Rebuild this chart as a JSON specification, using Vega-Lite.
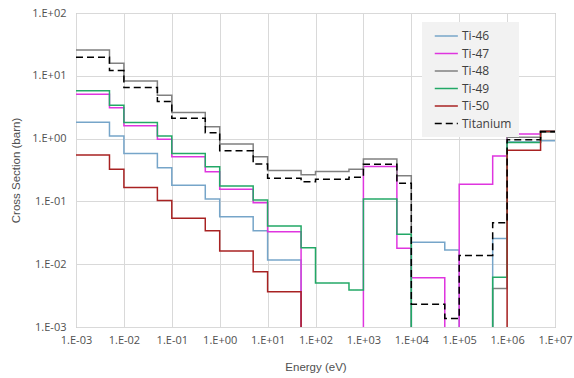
{
  "$schema": "https://vega.github.io/schema/vega-lite/v6.json",
  "width": 479,
  "height": 314,
  "autosize": {"type": "none"},
  "padding": {"left": 76, "top": 13, "right": 19, "bottom": 51},
  "background": "white",
  "config": {
    "view": {"stroke": "#a6a6a6", "strokeWidth": 1},
    "axis": {
      "grid": true,
      "gridColor": "#d9d9d9",
      "gridWidth": 1,
      "domain": false,
      "ticks": false,
      "labelFont": "Open Sans",
      "labelFontSize": 11,
      "labelColor": "#505050",
      "labelOverlap": false,
      "labelFlush": false,
      "labelBound": false,
      "titleFont": "Liberation Sans",
      "titleFontSize": 11.5,
      "titleFontWeight": "normal",
      "titleColor": "#505050"
    },
    "legend": {
      "labelFont": "Open Sans",
      "labelFontSize": 12,
      "labelColor": "#404040"
    }
  },
  "data": {
    "values": [
      {"e": 0.001, "Ti-46": 1.82, "Ti-47": 5.1, "Ti-48": 25.8, "Ti-49": 5.8, "Ti-50": 0.548, "Titanium": 19.7},
      {"e": 0.005, "Ti-46": 1.1, "Ti-47": 3.1, "Ti-48": 15.8, "Ti-49": 3.4, "Ti-50": 0.325, "Titanium": 12.1},
      {"e": 0.01, "Ti-46": 0.58, "Ti-47": 1.6, "Ti-48": 8.3, "Ti-49": 1.8, "Ti-50": 0.167, "Titanium": 6.5},
      {"e": 0.05, "Ti-46": 0.344, "Ti-47": 0.975, "Ti-48": 4.9, "Ti-49": 1.1, "Ti-50": 0.103, "Titanium": 3.9},
      {"e": 0.1, "Ti-46": 0.18, "Ti-47": 0.515, "Ti-48": 2.6, "Ti-49": 0.58, "Ti-50": 0.054, "Titanium": 2.1},
      {"e": 0.5, "Ti-46": 0.109, "Ti-47": 0.297, "Ti-48": 1.55, "Ti-49": 0.357, "Ti-50": 0.034, "Titanium": 1.24},
      {"e": 1, "Ti-46": 0.057, "Ti-47": 0.156, "Ti-48": 0.82, "Ti-49": 0.176, "Ti-50": 0.0162, "Titanium": 0.64},
      {"e": 5, "Ti-46": 0.034, "Ti-47": 0.095, "Ti-48": 0.515, "Ti-49": 0.105, "Ti-50": 0.0076, "Titanium": 0.394},
      {"e": 10, "Ti-46": 0.0117, "Ti-47": 0.033, "Ti-48": 0.31, "Ti-49": 0.0406, "Ti-50": 0.00365, "Titanium": 0.233},
      {"e": 50, "Ti-46": 1e-6, "Ti-47": 1e-6, "Ti-48": 0.265, "Ti-49": 0.0183, "Ti-50": 1e-6, "Titanium": 0.205},
      {"e": 100, "Ti-46": 1e-6, "Ti-47": 1e-6, "Ti-48": 0.30, "Ti-49": 0.005, "Ti-50": 1e-6, "Titanium": 0.225},
      {"e": 500, "Ti-46": 1e-6, "Ti-47": 1e-6, "Ti-48": 0.325, "Ti-49": 0.0039, "Ti-50": 1e-6, "Titanium": 0.242},
      {"e": 1000, "Ti-46": 1e-6, "Ti-47": 0.36, "Ti-48": 0.475, "Ti-49": 0.109, "Ti-50": 1e-6, "Titanium": 0.389},
      {"e": 5000, "Ti-46": 1e-6, "Ti-47": 0.0179, "Ti-48": 0.255, "Ti-49": 0.030, "Ti-50": 1e-6, "Titanium": 0.194},
      {"e": 10000, "Ti-46": 0.0223, "Ti-47": 0.0061, "Ti-48": 1e-6, "Ti-49": 1e-6, "Ti-50": 1e-6, "Titanium": 0.0023},
      {"e": 50000, "Ti-46": 0.0168, "Ti-47": 1e-6, "Ti-48": 1e-6, "Ti-49": 1e-6, "Ti-50": 1e-6, "Titanium": 0.00137},
      {"e": 100000, "Ti-46": 1e-6, "Ti-47": 0.187, "Ti-48": 1e-6, "Ti-49": 1e-6, "Ti-50": 1e-6, "Titanium": 0.0138},
      {"e": 500000, "Ti-46": 0.0257, "Ti-47": 0.53, "Ti-48": 0.0041, "Ti-49": 0.0062, "Ti-50": 1e-6, "Titanium": 0.0458},
      {"e": 1000000, "Ti-46": 0.88, "Ti-47": 1.18, "Ti-48": 1.05, "Ti-49": 0.87, "Ti-50": 0.65, "Titanium": 0.96},
      {"e": 5000000, "Ti-46": 0.92, "Ti-47": 1.3, "Ti-48": 1.33, "Ti-49": 1.28, "Ti-50": 1.3, "Titanium": 1.29},
      {"e": 10000000, "Ti-46": 0.92, "Ti-47": 1.3, "Ti-48": 1.33, "Ti-49": 1.28, "Ti-50": 1.3, "Titanium": 1.29}
    ]
  },
  "transform": [
    {"fold": ["Ti-46", "Ti-47", "Ti-48", "Ti-49", "Ti-50", "Titanium"], "as": ["s", "v"]}
  ],
  "encoding": {
    "x": {
      "field": "e",
      "type": "quantitative",
      "title": "Energy (eV)",
      "scale": {"type": "log", "domain": [0.001, 10000000], "nice": false},
      "axis": {
        "values": [0.001, 0.01, 0.1, 1, 10, 100, 1000, 10000, 100000, 1000000, 10000000],
        "labelPadding": 7,
        "titlePadding": 16,
        "labelExpr": "'1.E' + (round(log(datum.value)/LN10) < 0 ? '-' : '+') + (abs(round(log(datum.value)/LN10)) < 10 ? '0' : '') + abs(round(log(datum.value)/LN10))"
      }
    },
    "y": {
      "field": "v",
      "type": "quantitative",
      "title": "Cross Section (barn)",
      "scale": {"type": "log", "domain": [0.001, 100], "nice": false},
      "axis": {
        "values": [0.001, 0.01, 0.1, 1, 10, 100],
        "labelPadding": 10,
        "titlePadding": 10,
        "labelExpr": "'1.E' + (round(log(datum.value)/LN10) < 0 ? '-' : '+') + (abs(round(log(datum.value)/LN10)) < 10 ? '0' : '') + abs(round(log(datum.value)/LN10))"
      }
    },
    "color": {
      "field": "s",
      "type": "nominal",
      "scale": {
        "domain": ["Ti-46", "Ti-47", "Ti-48", "Ti-49", "Ti-50", "Titanium"],
        "range": ["#76a5c9", "#df35df", "#808080", "#22a866", "#a82222", "#000000"]
      },
      "legend": {
        "title": null,
        "orient": "none",
        "legendX": 346,
        "legendY": 9,
        "fillColor": "#f2f2f2",
        "padding": 7,
        "symbolType": "M-1,0L2.7,0",
        "symbolSize": 156,
        "symbolOffset": 5,
        "symbolFillColor": "transparent",
        "rowPadding": 4.5,
        "labelOffset": 14
      }
    },
    "strokeDash": {
      "field": "s",
      "type": "nominal",
      "scale": {
        "domain": ["Ti-46", "Ti-47", "Ti-48", "Ti-49", "Ti-50", "Titanium"],
        "range": [[1, 0], [1, 0], [1, 0], [1, 0], [1, 0], [7, 4]]
      },
      "legend": null
    },
    "strokeWidth": {
      "field": "s",
      "type": "nominal",
      "scale": {
        "domain": ["Ti-46", "Ti-47", "Ti-48", "Ti-49", "Ti-50", "Titanium"],
        "range": [1.5, 1.5, 1.5, 1.5, 1.5, 2.5]
      },
      "legend": null
    }
  },
  "layer": [
    {
      "transform": [{"filter": "datum.s != 'Titanium'"}],
      "mark": {"type": "line", "interpolate": "step-after", "clip": true}
    },
    {
      "transform": [{"filter": "datum.s == 'Titanium'"}],
      "mark": {"type": "line", "interpolate": "step-after", "clip": true}
    }
  ]
}
